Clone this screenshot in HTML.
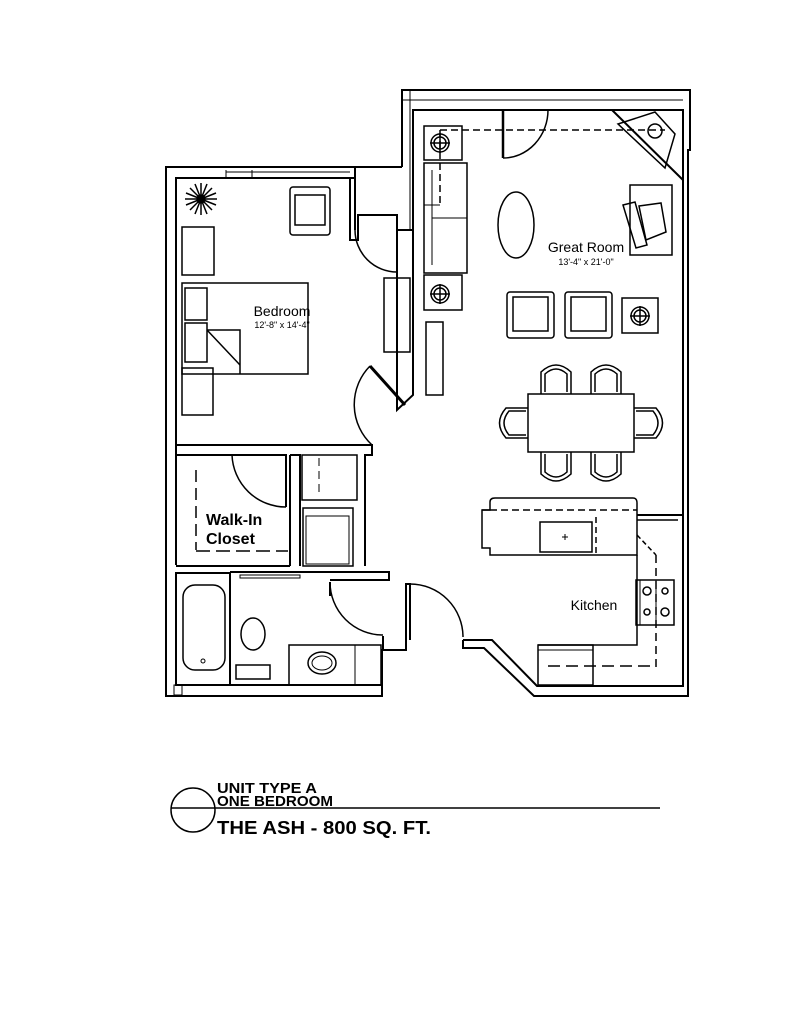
<!DOCTYPE html>
<html><head><meta charset="utf-8"><style>
html,body{margin:0;padding:0;background:#fff;}
svg{display:block;}
text{font-family:"Liberation Sans",sans-serif;fill:#000;}
</style></head><body>
<svg width="791" height="1024" viewBox="0 0 791 1024" xmlns="http://www.w3.org/2000/svg">
<g fill="none" stroke="#000" stroke-width="2">
<!-- Outer walls -->
<polyline points="402,167 166,167 166,696 382,696 382,684" />
<polyline points="402,167 402,90 690,90 690,150 688,150 688,696 534,696 484,648 463,648 463,640"/>
<!-- inner walls -->
<polyline points="355,178 176,178 176,445 355,445"/>
<polyline points="413,230 413,110 683,110 683,686 537,686 492,640 463,640" />
<line x1="402" y1="100" x2="683" y2="100" stroke-width="1"/>
<line x1="226" y1="170" x2="226" y2="178" stroke-width="1"/>
<line x1="252" y1="170" x2="252" y2="178" stroke-width="1"/>
<line x1="226" y1="172" x2="350" y2="172" stroke-width="1"/>
<!-- bedroom right walls & hall closet -->
<polyline points="350,178 350,240 358,240 358,215 397,215 397,230 413,230" />
<polyline points="355,167 355,230" />
<polyline points="397,230 397,410 413,395 413,230"/>
<polyline points="410,90 410,230" stroke-width="1"/>
<path d="M355,230 A42,42 0 0 0 397,272" stroke-width="1.5"/>
<line x1="397" y1="230" x2="397" y2="272"/>
<!-- bedroom door -->
<line x1="370" y1="366" x2="405" y2="405" stroke-width="3"/>
<path d="M370,366 A55,55 0 0 0 372,445" stroke-width="1.5"/>
<!-- bedroom bottom walls / closets -->
<polyline points="176,455 286,455 286,507" />
<line x1="176" y1="445" x2="176" y2="565"/>
<path d="M232,455 A54,54 0 0 0 286,507" stroke-width="1.5"/>
<polyline points="290,455 300,455 300,566"/>
<line x1="290" y1="455" x2="290" y2="566"/>
<polyline points="355,445 372,445 372,455 365,455 365,566"/>
<line x1="176" y1="566" x2="290" y2="566"/>
<line x1="196" y1="470" x2="196" y2="550" stroke-dasharray="12,6" stroke-width="1.5"/>
<line x1="196" y1="551" x2="288" y2="551" stroke-dasharray="14,6" stroke-width="1.5"/>
<rect x="302" y="455" width="55" height="45" stroke-width="1.5"/>
<line x1="319" y1="458" x2="319" y2="495" stroke-dasharray="8,5" stroke-width="1"/>
<rect x="303" y="508" width="50" height="58" stroke-width="1.5"/>
<rect x="306" y="516" width="43" height="48" stroke-width="1"/>
<!-- bath -->
<polyline points="176,572 176,685 382,685 382,650 387,650"/>
<polyline points="176,573 230,573 230,685"/>
<polyline points="230,572 389,572 389,580 330,580"/>
<rect x="240" y="575" width="60" height="3" stroke-width="1"/>
<path d="M330,582 A53,53 0 0 0 383,635" stroke-width="1.5"/>
<line x1="330" y1="582" x2="330" y2="596"/>
<rect x="183" y="585" width="42" height="85" rx="12" stroke-width="1.5"/>
<circle cx="203" cy="661" r="2" stroke-width="1"/>
<ellipse cx="253" cy="634" rx="12" ry="16" stroke-width="1.5"/>
<rect x="236" y="665" width="34" height="14" stroke-width="1.5"/>
<rect x="289" y="645" width="92" height="40" stroke-width="1.5"/>
<line x1="355" y1="645" x2="355" y2="685" stroke-width="1"/>
<ellipse cx="322" cy="663" rx="14" ry="11" stroke-width="1.5"/>
<ellipse cx="322" cy="663" rx="10" ry="7" stroke-width="1"/>
<!-- entry door -->
<polyline points="383,636 383,650 406,650 406,584 410,584 410,640"/>
<path d="M410,584 A53,53 0 0 1 463,637" stroke-width="1.5"/>
<rect x="174" y="685" width="8" height="10" stroke-width="1"/>
<!-- bedroom furniture -->
<g stroke-width="1.5">
<rect x="290" y="187" width="40" height="48" rx="3"/>
<rect x="295" y="195" width="30" height="30"/>
<rect x="182" y="227" width="32" height="48"/>
<rect x="182" y="283" width="126" height="91"/>
<rect x="185" y="288" width="22" height="32"/>
<rect x="185" y="323" width="22" height="39"/>
<polyline points="207,330 240,330 240,374"/>
<line x1="207" y1="330" x2="240" y2="365"/>
<rect x="182" y="368" width="31" height="47"/>
<rect x="384" y="278" width="26" height="74"/>
</g>
<g stroke-width="1.5">
<circle cx="201" cy="199" r="4"/>
<path d="M201,183 L201,215 M185,199 L217,199 M190,188 L212,210 M212,188 L190,210 M195,184 L207,214 M207,184 L195,214 M186,193 L216,205 M216,193 L186,205"/>
</g>
<!-- great room -->
<g stroke-width="1.5">
<rect x="424" y="126" width="38" height="34"/>
<circle cx="440" cy="143" r="9"/><circle cx="440" cy="143" r="6"/>
<line x1="430" y1="143" x2="450" y2="143"/><line x1="440" y1="133" x2="440" y2="153"/>
<rect x="424" y="163" width="43" height="110"/>
<line x1="432" y1="170" x2="432" y2="265" stroke-width="1"/>
<line x1="432" y1="218" x2="467" y2="218" stroke-width="1"/>
<rect x="424" y="275" width="38" height="35"/>
<circle cx="440" cy="294" r="9"/><circle cx="440" cy="294" r="6"/>
<line x1="430" y1="294" x2="450" y2="294"/><line x1="440" y1="284" x2="440" y2="304"/>
<rect x="426" y="322" width="17" height="73"/>
<line x1="503" y1="110" x2="503" y2="158" stroke-width="2.5"/>
<path d="M503,158 A45,48 0 0 0 548,110"/>
<line x1="440" y1="130" x2="665" y2="130" stroke-dasharray="7,4"/>
<line x1="440" y1="130" x2="440" y2="205" stroke-dasharray="7,4"/>
<line x1="424" y1="205" x2="440" y2="205" stroke-width="1"/>
<line x1="612" y1="110" x2="683" y2="180" stroke-width="2"/>
<polygon points="618,124 655,112 675,134 665,168"/>
<circle cx="655" cy="131" r="7"/>
<ellipse cx="516" cy="225" rx="18" ry="33"/>
<rect x="630" y="185" width="42" height="70"/>
<polygon points="623,205 635,202 647,245 636,248"/>
<polygon points="639,206 661,203 666,232 646,240"/>
<rect x="507" y="292" width="47" height="46" rx="3"/>
<rect x="513" y="297" width="35" height="34"/>
<rect x="565" y="292" width="47" height="46" rx="3"/>
<rect x="571" y="297" width="35" height="34"/>
<rect x="622" y="298" width="36" height="35"/>
<circle cx="640" cy="316" r="9"/><circle cx="640" cy="316" r="6"/>
<line x1="630" y1="316" x2="650" y2="316"/><line x1="640" y1="306" x2="640" y2="326"/>
<rect x="528" y="394" width="106" height="58"/>
<path d="M541,394 L541,372 Q556,358 571,372 L571,394 M545,392 L545,374 Q556,364 567,374 L567,392"/>
<path d="M591,394 L591,372 Q606,358 621,372 L621,394 M595,392 L595,374 Q606,364 617,374 L617,392"/>
<path d="M541,452 L541,474 Q556,488 571,474 L571,452 M545,454 L545,472 Q556,482 567,472 L567,454"/>
<path d="M591,452 L591,474 Q606,488 621,474 L621,452 M595,454 L595,472 Q606,482 617,472 L617,454"/>
<path d="M528,408 L506,408 Q493,423 506,438 L528,438 M526,411 L509,411 Q499,423 509,435 L526,435"/>
<path d="M634,408 L656,408 Q669,423 656,438 L634,438 M636,411 L653,411 Q663,423 653,435 L636,435"/>
</g>
<!-- kitchen -->
<g stroke-width="1.5">
<path d="M482,510 L490,510 L490,502 Q490,498 495,498 L633,498 Q637,498 637,503 L637,555 L490,555 L490,548 L482,548 Z"/>
<line x1="482" y1="510" x2="490" y2="510"/>
<line x1="490" y1="510" x2="637" y2="510" stroke-dasharray="7,4"/>
<rect x="540" y="522" width="52" height="30"/>
<line x1="562" y1="537" x2="568" y2="537" stroke-width="1"/><line x1="565" y1="534" x2="565" y2="540" stroke-width="1"/>
<line x1="596" y1="517" x2="596" y2="553" stroke-dasharray="6,4"/>
<line x1="637" y1="515" x2="683" y2="515" stroke-width="2"/>
<line x1="637" y1="520" x2="678" y2="520"/>
<polyline points="637,555 637,580 637,645 538,645" stroke-width="1.5"/>
<line x1="637" y1="535" x2="656" y2="555" stroke-dasharray="5,3"/>
<line x1="656" y1="555" x2="656" y2="672" stroke-dasharray="8,5"/>
<line x1="548" y1="666" x2="656" y2="666" stroke-dasharray="12,6"/>
<rect x="636" y="580" width="38" height="45"/>
<line x1="640" y1="580" x2="640" y2="625" stroke-width="1"/>
<line x1="656" y1="580" x2="656" y2="625" stroke-width="1"/>
<circle cx="647" cy="591" r="4"/><circle cx="665" cy="591" r="3"/>
<circle cx="647" cy="612" r="3"/><circle cx="665" cy="612" r="4"/>
<rect x="538" y="645" width="55" height="40"/>
<line x1="538" y1="650" x2="593" y2="650" stroke-width="1"/>
</g>
<!-- title -->
<circle cx="193" cy="810" r="22" stroke-width="1.5"/>
<line x1="171" y1="808" x2="660" y2="808" stroke-width="1.5"/>
</g>
<text x="282" y="316" font-size="14" text-anchor="middle">Bedroom</text>
<text x="282" y="328" font-size="9" text-anchor="middle">12'-8" x 14'-4"</text>
<text x="586" y="252" font-size="14" text-anchor="middle">Great Room</text>
<text x="586" y="265" font-size="9" text-anchor="middle">13'-4" x 21'-0"</text>
<text x="594" y="610" font-size="14" text-anchor="middle">Kitchen</text>
<text x="206" y="525" font-size="16" font-weight="bold">Walk-In</text>
<text x="206" y="544" font-size="16" font-weight="bold">Closet</text>
<text x="217" y="793" font-size="15" font-weight="bold" textLength="100" lengthAdjust="spacingAndGlyphs">UNIT TYPE A</text>
<text x="217" y="806" font-size="15" font-weight="bold" textLength="116" lengthAdjust="spacingAndGlyphs">ONE BEDROOM</text>
<text x="217" y="834" font-size="18" font-weight="bold" textLength="214" lengthAdjust="spacingAndGlyphs">THE ASH - 800 SQ. FT.</text>
</svg>
</body></html>
